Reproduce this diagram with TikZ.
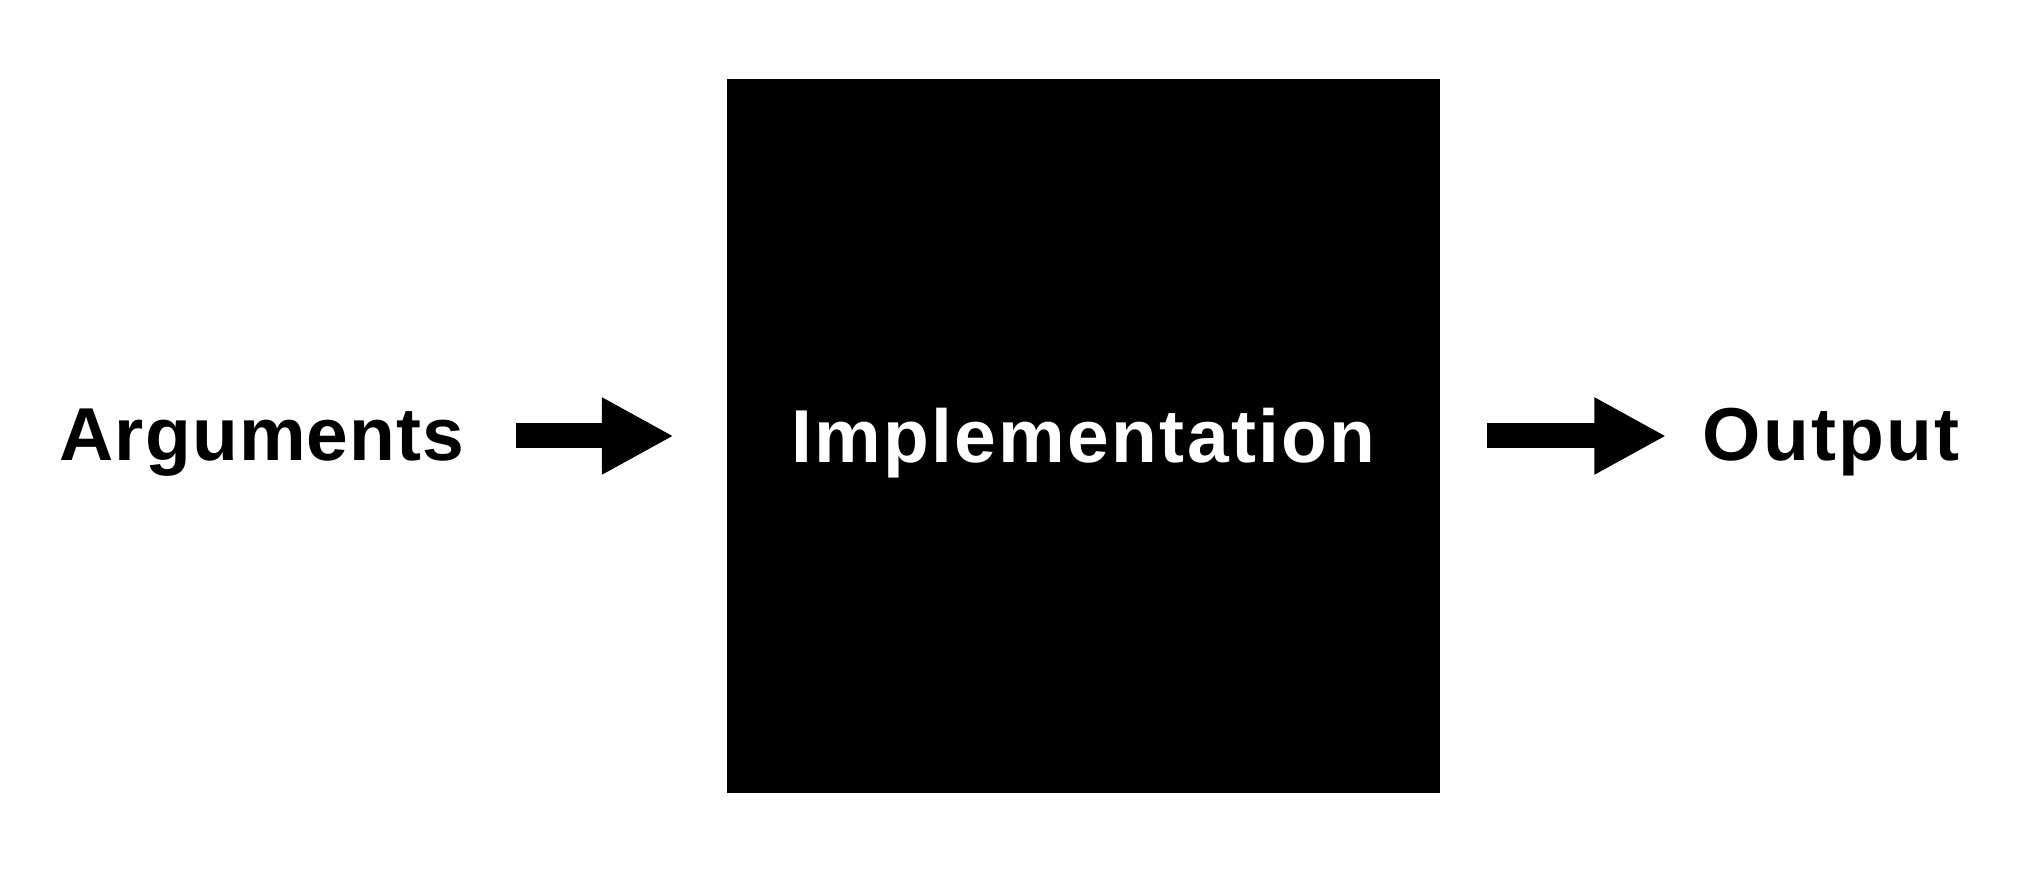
\documentclass[tikz,border=0pt]{standalone}
\usepackage{fontspec}
\setmainfont[LetterSpace=3]{Liberation Sans}
\usetikzlibrary{arrows.meta}
\tikzset{
  lbl/.style={inner sep=0pt, anchor=base, font=\fontsize{75}{80}\selectfont\bfseries},
  blackbox/.style={fill=black, draw=none, minimum width=713pt, minimum height=714pt, inner sep=0pt,
    text=white, text height=54pt, text depth=0pt, font=\fontsize{75}{80}\selectfont\bfseries},
  bigarrow/.style={line width=25pt, line cap=butt, -{Triangle[length=72pt, width=72pt]}}
}
\begin{document}
\begin{tikzpicture}[x=1pt, y=1pt]
\useasboundingbox (0,0) rectangle (2024,874);
\node[blackbox] (impl) at (1083.5,438) {Implementation};
\node[lbl] (args) at (262,413) {\addfontfeatures{LetterSpace=1.5}Arguments};
\node[lbl] (out) at (1831,413) {Output};
\draw[bigarrow] ([xshift=51pt]args.east |- impl.center) -- ([xshift=-53pt]impl.west);
\draw[bigarrow] ([xshift=47pt]impl.east) -- ([xshift=-36pt]out.west |- impl.center);
\end{tikzpicture}
\end{document}
